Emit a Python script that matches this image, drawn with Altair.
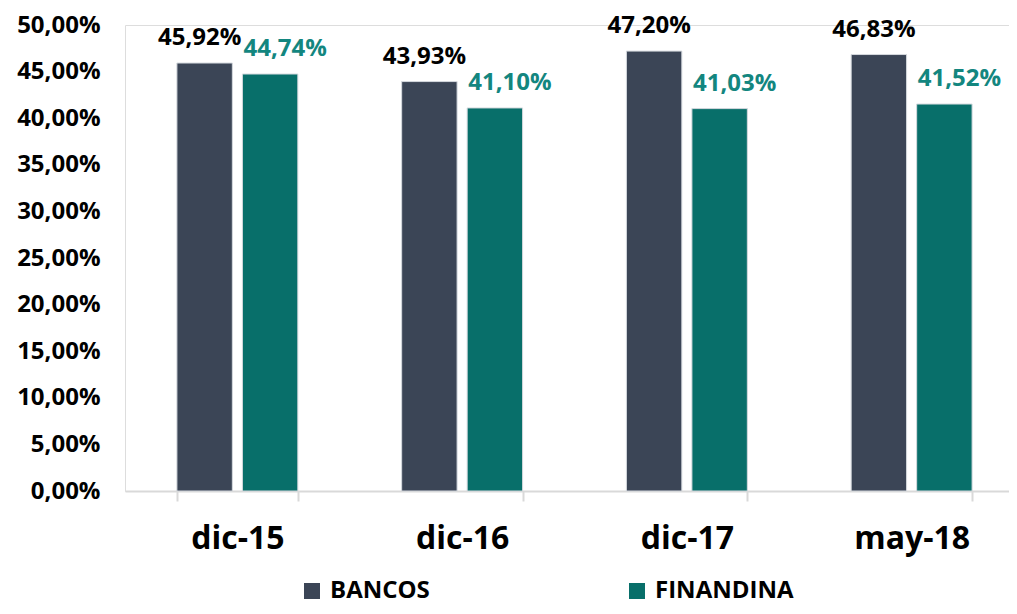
import altair as alt
import pandas as pd

categories = ["dic-15", "dic-16", "dic-17", "may-18"]
series = ["BANCOS", "FINANDINA"]
bancos = [45.92, 43.93, 47.20, 46.83]
finandina = [44.74, 41.10, 41.03, 41.52]

rows = []
for c, b, f in zip(categories, bancos, finandina):
    rows.append({"periodo": c, "serie": "BANCOS", "valor": b})
    rows.append({"periodo": c, "serie": "FINANDINA", "valor": f})
df = pd.DataFrame(rows)

C_BANCOS = "#3B4556"
C_FIN = "#086F6A"
C_FIN_TXT = "#13867F"
FONT = "Open Sans"

base = alt.Chart(df).encode(
    x=alt.X(
        "periodo:N",
        sort=categories,
        title=None,
        scale=alt.Scale(range=[0, 899], paddingInner=0.462, paddingOuter=0.231),
        axis=alt.Axis(
            labelAngle=0,
            labelFontSize=32,
            labelFont=FONT,
            labelFontWeight="bold",
            labelColor="#000000",
            labelPadding=22,
            domainColor="#D9D9D9",
            domainWidth=2,
            tickColor="#D9D9D9",
            tickWidth=2,
            tickSize=10,
            tickBand="extent",
            grid=False,
        ),
    ),
    xOffset=alt.XOffset(
        "serie:N",
        sort=series,
        scale=alt.Scale(paddingInner=0.154, paddingOuter=0),
    ),
    y=alt.Y(
        "valor:Q",
        title=None,
        scale=alt.Scale(domain=[0, 50], nice=False),
        axis=alt.Axis(
            values=[0, 5, 10, 15, 20, 25, 30, 35, 40, 45, 50],
            labelExpr="replace(format(datum.value, '.2f'), '.', ',') + '%'",
            labelFontSize=24,
            labelFont=FONT,
            labelFontWeight="bold",
            labelColor="#000000",
            labelPadding=25,
            ticks=False,
            tickSize=0,
            domain=False,
            grid=False,
        ),
    ),
)

bars = base.mark_bar(stroke="#D5D9DE", strokeWidth=1).encode(
    color=alt.Color(
        "serie:N",
        sort=series,
        scale=alt.Scale(domain=series, range=[C_BANCOS, C_FIN]),
        legend=alt.Legend(
            title=None,
            orient="none",
            direction="horizontal",
            legendX=175,
            legendY=554,
            symbolType="square",
            symbolSize=256,
            symbolStrokeWidth=0,
            labelFontSize=24,
            labelFont=FONT,
            labelFontWeight="bold",
            labelColor="#000000",
            labelOffset=6,
            columnPadding=195,
            padding=0,
        ),
    )
)

label_expr = "replace(format(datum.valor, '.2f'), '.', ',') + '%'"

txt_b = base.transform_filter(alt.datum.serie == "BANCOS").transform_calculate(
    lab=label_expr
).mark_text(
    fontSize=24, font=FONT, fontWeight="bold", color="#000000",
    baseline="middle", align="center", dx=-5, dy=-25,
).encode(text="lab:N")

txt_f = base.transform_filter(alt.datum.serie == "FINANDINA").transform_calculate(
    lab=label_expr
).mark_text(
    fontSize=24, font=FONT, fontWeight="bold", color=C_FIN_TXT,
    baseline="middle", align="center", dx=15, dy=-25,
).encode(text="lab:N")

chart = alt.layer(bars, txt_b, txt_f).properties(
    width=884,
    height=466,
    autosize=alt.AutoSizeParams(type="none"),
    padding={"left": 117, "top": 17, "right": 0, "bottom": 115},
).configure_view(stroke=None).configure(background="#FFFFFF")

chart.save("out.html", embed_options={"renderer": "svg", "actions": False})
